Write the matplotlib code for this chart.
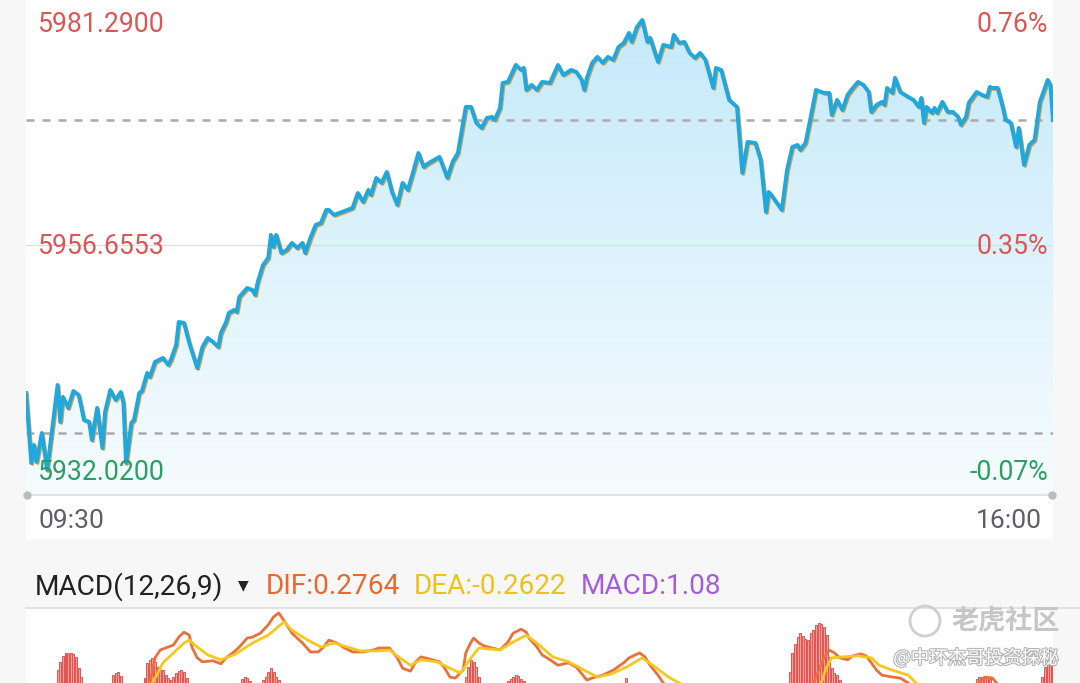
import matplotlib
matplotlib.use("Agg")
import matplotlib.pyplot as plt
import numpy as np
from matplotlib.patches import Rectangle, Ellipse
from matplotlib.lines import Line2D
from matplotlib.colors import LinearSegmentedColormap
import matplotlib.patheffects as pe
from matplotlib import transforms

# ---- intraday price, minutes after 09:30 ----
times = [0, 2, 3, 4, 6, 8, 12, 13, 14, 16,
         18, 20, 21, 22, 24, 25, 27, 29, 30, 32,
         34, 36, 37, 38, 40, 41, 43, 44, 46, 47,
         49, 52, 54, 55, 57, 58, 60, 62, 65, 67,
         69, 71, 73, 74, 76, 77, 79, 80, 81, 84,
         86, 87, 88, 90, 92, 93, 94, 95, 97, 99,
         101, 103, 105, 106, 108, 110, 112, 114, 115, 117,
         119, 120, 124, 126, 128, 130, 131, 133, 135, 137,
         139, 141, 143, 145, 147, 149, 151, 153, 157, 160,
         162, 164, 167, 169, 171, 173, 175, 177, 178, 180,
         181, 183, 186, 188, 189, 190, 192, 194, 196, 199,
         202, 204, 207, 209, 211, 212, 213, 215, 217, 219,
         221, 223, 225, 227, 229, 230, 232, 234, 236, 237,
         240, 242, 245, 246, 248, 250, 252, 254, 256, 258,
         261, 262, 264, 267, 270, 272, 274, 277, 279, 281,
         282, 283, 287, 289, 291, 293, 294, 296, 298, 300,
         303, 305, 306, 308, 310, 312, 314, 316, 318, 320,
         321, 323, 325, 326, 327, 329, 330, 332, 335, 337,
         339, 340, 341, 342, 344, 345, 346, 348, 350, 352,
         354, 355, 357, 358, 361, 363, 365, 366, 367, 369,
         371, 372, 374, 376, 377, 379, 381, 383, 385, 388,
         389, 390]
prices = [5940.45, 5932.79, 5934.76, 5932.90, 5936.07, 5932.02, 5941.33, 5937.28, 5940.02, 5938.81,
          5940.67, 5940.23, 5938.92, 5937.50, 5937.28, 5935.31, 5938.81, 5934.43, 5938.37, 5940.78,
          5939.69, 5940.56, 5939.36, 5932.79, 5937.17, 5937.50, 5940.45, 5940.67, 5942.64, 5942.21,
          5943.85, 5944.29, 5943.52, 5944.07, 5945.71, 5948.23, 5948.12, 5945.93, 5943.19, 5945.49,
          5946.48, 5946.04, 5945.49, 5947.02, 5948.23, 5949.21, 5949.54, 5949.32, 5950.97, 5951.95,
          5951.73, 5951.18, 5952.61, 5954.47, 5955.24, 5957.76, 5956.44, 5957.76, 5955.78, 5956.11,
          5956.88, 5956.33, 5956.88, 5955.78, 5957.43, 5958.85, 5959.07, 5960.49, 5960.49, 5959.95,
          5960.16, 5960.27, 5960.71, 5962.35, 5961.37, 5962.68, 5962.14, 5964.00, 5963.45, 5964.65,
          5962.46, 5961.04, 5963.45, 5962.68, 5964.65, 5966.73, 5965.20, 5965.64, 5966.30, 5964.00,
          5965.75, 5966.73, 5971.77, 5971.77, 5970.02, 5969.47, 5970.57, 5970.68, 5970.35, 5971.66,
          5974.40, 5974.51, 5976.37, 5975.82, 5976.04, 5973.63, 5974.18, 5973.63, 5974.51, 5974.40,
          5976.37, 5975.28, 5975.82, 5975.60, 5974.73, 5973.63, 5974.95, 5976.59, 5977.25, 5976.59,
          5977.25, 5976.92, 5978.34, 5978.78, 5979.87, 5978.89, 5980.53, 5981.29, 5978.89, 5979.33,
          5976.70, 5978.56, 5978.34, 5979.66, 5978.78, 5978.89, 5977.68, 5977.14, 5977.68, 5976.92,
          5973.85, 5976.04, 5975.82, 5972.54, 5971.77, 5964.54, 5967.94, 5967.83, 5965.97, 5960.27,
          5962.46, 5962.14, 5960.49, 5964.87, 5967.39, 5967.61, 5967.06, 5967.83, 5970.68, 5973.63,
          5973.30, 5973.30, 5970.90, 5972.54, 5971.44, 5973.09, 5973.85, 5974.51, 5974.18, 5973.41,
          5971.22, 5971.99, 5972.32, 5971.99, 5973.85, 5973.30, 5974.95, 5973.41, 5972.87, 5972.54,
          5971.77, 5972.76, 5970.02, 5971.77, 5971.11, 5971.66, 5971.11, 5972.32, 5971.22, 5971.22,
          5970.68, 5969.80, 5970.68, 5972.21, 5973.41, 5973.09, 5972.87, 5973.96, 5973.85, 5973.85,
          5971.66, 5970.35, 5970.02, 5967.39, 5969.47, 5965.42, 5967.61, 5968.16, 5972.32, 5974.73,
          5974.18, 5970.35]

prev_close = 5936.05
price_hi = 5981.29
price_mid = 5956.6553
price_lo = 5932.02
time_labels = ["09:30", "16:00"]

# ---- MACD panel (only top part is visible) ----
dif_t = [0, 40, 44, 47, 49, 51, 54, 56, 58, 60,
         62, 63, 65, 67, 71, 74, 76, 79, 81, 84,
         86, 89, 92, 94, 96, 97, 99, 101, 105, 108,
         111, 113, 115, 118, 121, 124, 128, 132, 134, 138,
         141, 143, 146, 148, 150, 153, 157, 159, 161, 163,
         166, 167, 169, 170, 172, 174, 177, 180, 183, 185,
         188, 190, 191, 194, 196, 199, 202, 206, 209, 213,
         215, 219, 223, 227, 229, 233, 235, 237, 240, 242,
         250, 275, 295, 299, 303, 305, 307, 309, 312, 314,
         317, 319, 321, 323, 325, 329, 332, 335, 338, 345,
         360, 364, 367, 371, 390]
dif_v = [0.0, 0.2, 0.30, 0.50, 1.01, 1.17, 1.23, 1.27, 1.43, 1.53,
         1.47, 1.23, 1.01, 0.93, 0.95, 0.89, 1.01, 1.13, 1.23, 1.41,
         1.43, 1.51, 1.68, 1.84, 1.92, 1.84, 1.68, 1.51, 1.31, 1.13,
         1.13, 1.23, 1.37, 1.31, 1.21, 1.13, 1.13, 1.17, 1.21, 1.21,
         1.01, 0.80, 0.74, 0.93, 1.03, 0.99, 0.93, 0.80, 0.62, 0.60,
         0.76, 1.11, 1.33, 1.41, 1.31, 1.25, 1.21, 1.17, 1.33, 1.51,
         1.59, 1.53, 1.41, 1.23, 1.07, 0.97, 0.86, 0.91, 0.82, 0.56,
         0.60, 0.66, 0.76, 0.91, 1.01, 1.11, 1.03, 0.86, 0.66, 0.50,
         0.20, 0.00, 0.30, 0.50, 1.01, 1.17, 1.11, 1.01, 0.97, 1.05,
         1.09, 1.05, 0.91, 0.76, 0.66, 0.62, 0.60, 0.50, 0.30, 0.25,
         0.40, 0.62, 0.60, 0.35, 0.2764]

dea_t = [0, 40, 45, 48, 50, 52, 56, 60, 62, 65,
         69, 74, 79, 86, 92, 98, 101, 107, 112, 117,
         122, 127, 134, 138, 142, 146, 150, 156, 161, 165,
         169, 172, 180, 185, 190, 194, 200, 206, 212, 217,
         222, 228, 234, 238, 244, 248, 255, 280, 298, 302,
         304, 306, 310, 316, 321, 324, 329, 335, 338, 345,
         390]
dea_v = [0.0, 0.1, 0.30, 0.50, 0.70, 0.91, 1.11, 1.31, 1.37, 1.23,
         1.07, 0.97, 1.07, 1.31, 1.47, 1.74, 1.57, 1.37, 1.23, 1.31,
         1.23, 1.15, 1.15, 1.17, 1.01, 0.86, 0.97, 0.93, 0.80, 0.70,
         1.01, 1.21, 1.17, 1.33, 1.47, 1.31, 1.03, 0.93, 0.76, 0.62,
         0.68, 0.82, 1.01, 0.86, 0.62, 0.50, 0.35, 0.10, 0.30, 0.50,
         0.82, 1.01, 1.03, 1.05, 1.01, 0.86, 0.76, 0.66, 0.50, 0.30,
         -0.2622]

bar_t = (list(range(12, 22)) + list(range(33, 37)) + list(range(45, 62))
         + list(range(82, 86)) + list(range(90, 97)) + list(range(167, 173))
         + list(range(183, 190)) + [228] + list(range(290, 310))
         + list(range(361, 367)) + list(range(386, 391)))
bar_v = ([0.76, 0.93, 1.05, 1.11, 1.11, 1.11, 1.09, 1.03, 0.80, 0.62]
         + [0.66, 0.70, 0.72, 0.64]
         + [0.60, 0.91, 0.97, 1.01, 0.93, 0.82, 0.76, 0.76, 0.66, 0.60, 0.56, 0.62, 0.70, 0.74, 0.76, 0.72, 0.60]
         + [0.58, 0.62, 0.60, 0.55]
         + [0.56, 0.62, 0.72, 0.80, 0.72, 0.62, 0.56]
         + [0.62, 0.82, 0.97, 0.93, 0.82, 0.62]
         + [0.54, 0.58, 0.62, 0.66, 0.64, 0.58, 0.54]
         + [0.60]
         + [0.72, 1.11, 1.30, 1.43, 1.51, 1.45, 1.40, 1.37, 1.51, 1.57, 1.68, 1.72, 1.70, 1.64, 1.47, 1.03, 0.80, 0.70, 0.66, 0.56]
         + [0.58, 0.62, 0.62, 0.60, 0.62, 0.58]
         + [0.62, 0.82, 1.03, 1.17, 1.08])

macd_name = "MACD(12,26,9)"
dif_last, dea_last, macd_last = 0.2764, -0.2622, 1.08

W, H = 1080, 683
NUM_FONT = ["Roboto", "DejaVu Sans"]
CJK_FONT = ["Noto Sans CJK SC", "DejaVu Sans"]
RED, GREEN = "#dc5656", "#2a9e63"


def fx(px):
    return px / W


def fy(py):
    return 1 - py / H


fig = plt.figure(figsize=(W / 100, H / 100), dpi=100)
fig.patch.set_facecolor("#f7f7f8")

# white backgrounds
fig.add_artist(Rectangle((fx(26), fy(539)), fx(1053) - fx(26), fy(0) - fy(539),
                         transform=fig.transFigure, facecolor="white", edgecolor="none", zorder=0))
fig.add_artist(Rectangle((fx(26), fy(683)), fx(1053) - fx(26), fy(609) - fy(683),
                         transform=fig.transFigure, facecolor="white", edgecolor="none", zorder=0))

# ---- price panel ----
ylo, yhi = 5929.28, 5983.48
ax = fig.add_axes([fx(26), fy(495), fx(1053) - fx(26), fy(0) - fy(495)])
ax.set_xlim(0, 390)
ax.set_ylim(ylo, yhi)
ax.axis("off")

grad = np.linspace(0, 1, 256).reshape(-1, 1)
cmap = LinearSegmentedColormap.from_list("fill", ["#f7fcfe", "#c3e9fb"])
im = ax.imshow(grad, extent=[0, 390, ylo, yhi], origin="lower", aspect="auto",
               cmap=cmap, zorder=1, interpolation="bilinear")
poly = ax.fill_between(times, prices, ylo, color="none", linewidth=0)
im.set_clip_path(poly.get_paths()[0], transform=ax.transData)

ax.axhline(price_mid, color="#dedede", lw=0.9, zorder=2)
ax.axhline(prices[-1], color="#a9a9a9", lw=1.8, dashes=(3.2, 3.2), zorder=2)
ax.axhline(prev_close, color="#a9a9a9", lw=1.8, dashes=(3.2, 3.2), zorder=2)

shadow = transforms.offset_copy(ax.transData, fig=fig, x=0.9, y=-0.9, units="points")
ax.plot(times, prices, color="#c9a256", lw=2.4, zorder=3, transform=shadow, solid_joinstyle="round")
ax.plot(times, prices, color="#1fa8e0", lw=2.8, zorder=4, solid_joinstyle="round")

# bottom axis line with end dots
fig.add_artist(Line2D([fx(26), fx(1053)], [fy(495), fy(495)], transform=fig.transFigure,
                      color="#e3e3e3", lw=1.5))
fig.add_artist(Line2D([fx(27), fx(1052)], [fy(495), fy(495)], transform=fig.transFigure,
                      ls="none", marker="o", ms=5, color="#bcbcbc"))

# y labels inside the plot
levels = [price_hi, price_mid, price_lo]
ys = [24, 247, 473]
for val, yy in zip(levels, ys):
    col = RED if val >= prev_close else GREEN
    pct = (val / prev_close - 1) * 100
    fig.text(fx(38), fy(yy), f"{val:.4f}", color=col, fontsize=19.2, family=NUM_FONT,
             ha="left", va="center")
    fig.text(fx(1048), fy(yy), f"{pct:.2f}%", color=col, fontsize=19.2, family=NUM_FONT,
             ha="right", va="center")

fig.text(fx(38), fy(521), time_labels[0], color="#5e5e68", fontsize=19, family=NUM_FONT,
         ha="left", va="center")
fig.text(fx(1042), fy(521), time_labels[1], color="#5e5e68", fontsize=19, family=NUM_FONT,
         ha="right", va="center")

# ---- MACD header ----
fig.text(fx(35), fy(587), macd_name, color="#222222", fontsize=20.2, family=NUM_FONT,
         ha="left", va="center")
fig.text(fx(243), fy(585), "▼", color="#222222", fontsize=10, family=["DejaVu Sans"],
         ha="center", va="center")
fig.text(fx(266), fy(587), f"DIF:{dif_last:.4f}", color="#e8692e", fontsize=20.2,
         family=NUM_FONT, ha="left", va="center")
fig.text(fx(414), fy(587), f"DEA:{dea_last:.4f}", color="#eec21c", fontsize=20.2,
         family=NUM_FONT, ha="left", va="center")
fig.text(fx(581), fy(587), f"MACD:{macd_last:.2f}", color="#a55be0", fontsize=20.2,
         family=NUM_FONT, ha="left", va="center")
fig.add_artist(Line2D([fx(26), fx(1080)], [fy(608), fy(608)], transform=fig.transFigure,
                      color="#dedede", lw=1.2))

# ---- MACD panel ----
mx = fig.add_axes([fx(26), fy(683), fx(1053) - fx(26), fy(609) - fy(683)])
mx.set_xlim(0, 390)
mx.set_ylim(0.5, 2.0)
mx.axis("off")
mx.bar(bar_t, bar_v, width=0.75, color="#f3a3a0", edgecolor="#e5534d", linewidth=0.7, zorder=1)
mx.plot(dif_t, dif_v, color="#e8713c", lw=2.0, zorder=2)
mx.plot(dea_t, dea_v, color="#f5c81e", lw=2.0, zorder=3)

# ---- watermark ----
fig.add_artist(Ellipse((fx(925), fy(621)), 30 / W, 30 / H, transform=fig.transFigure,
                       facecolor="none", edgecolor="#cfcfcf", lw=2, zorder=5))
fig.text(fx(1006), fy(621), "老虎社区", color="#c6c6c6", fontsize=19.5, family=CJK_FONT,
         fontweight="bold", ha="center", va="center", zorder=5)
wm = fig.text(fx(976), fy(658), "@中环杰哥投资探秘", color="white", fontsize=13.3,
              family=CJK_FONT, ha="center", va="center", zorder=5)
wm.set_path_effects([pe.withStroke(linewidth=1.6, foreground="#b5b5b5")])

fig.savefig("out.png", dpi=100, facecolor=fig.get_facecolor())
